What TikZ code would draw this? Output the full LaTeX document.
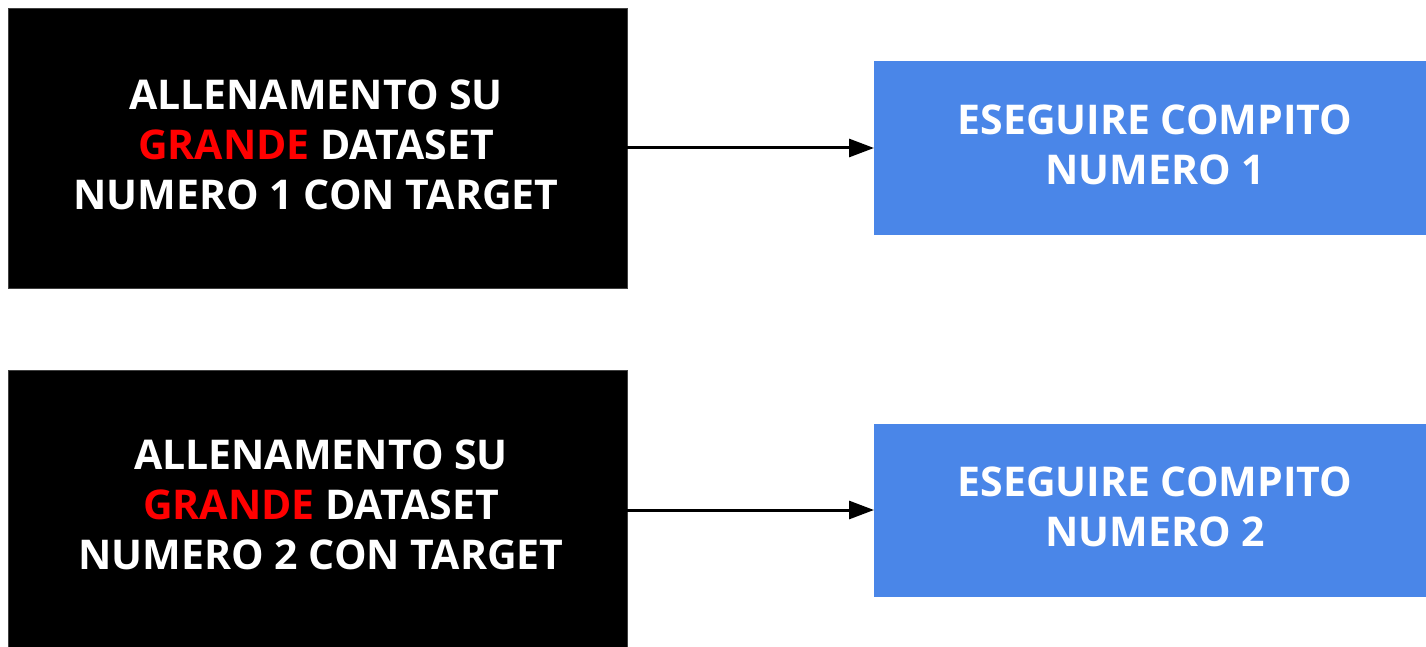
\documentclass[tikz,border=0pt]{standalone}
\usepackage{fontspec}
\setmainfont{Open Sans}
\usetikzlibrary{arrows.meta}
\definecolor{boxblue}{HTML}{4A86E8}
\definecolor{hotred}{HTML}{FF0000}
\tikzset{
  blackbox/.style={draw=black!75, fill=black, line width=0.8pt, inner sep=0pt},
  bluebox/.style={draw=boxblue, fill=boxblue, line width=0pt, inner sep=0pt},
  label/.style={text=white, align=center, inner sep=0pt,
    font=\fontsize{41}{50}\selectfont\bfseries},
  conn/.style={line width=3pt, -{Triangle[length=25pt,width=18pt]}},
}
\begin{document}
\begin{tikzpicture}[x=1pt,y=-1pt]
\useasboundingbox (0,0) rectangle (1426,647);
\node[blackbox, minimum width=619pt, minimum height=280pt] (a1) at (317.5,148) {};
\node[label] (t1) at (316,145) {ALLENAMENTO SU\\\textcolor{hotred}{GRANDE} DATASET\\NUMERO 1 CON TARGET};
\node[bluebox, minimum width=560pt, minimum height=172pt] (b1) at (1154,148) {};
\node[label] (u1) at (1155,145) {ESEGUIRE COMPITO\\NUMERO 1};
\node[blackbox, minimum width=619pt, minimum height=290pt] (a2) at (317.5,515) {};
\node[label] (t2) at (321,505) {ALLENAMENTO SU\\\textcolor{hotred}{GRANDE} DATASET\\NUMERO 2 CON TARGET};
\node[bluebox, minimum width=560pt, minimum height=172pt] (b2) at (1154,510) {};
\node[label] (u2) at (1155,507) {ESEGUIRE COMPITO\\NUMERO 2};
\draw[conn] (a1.east |- 0,148) -- (b1.west |- 0,148);
\draw[conn] (a2.east |- 0,510) -- (b2.west |- 0,510);
\end{tikzpicture}
\end{document}
